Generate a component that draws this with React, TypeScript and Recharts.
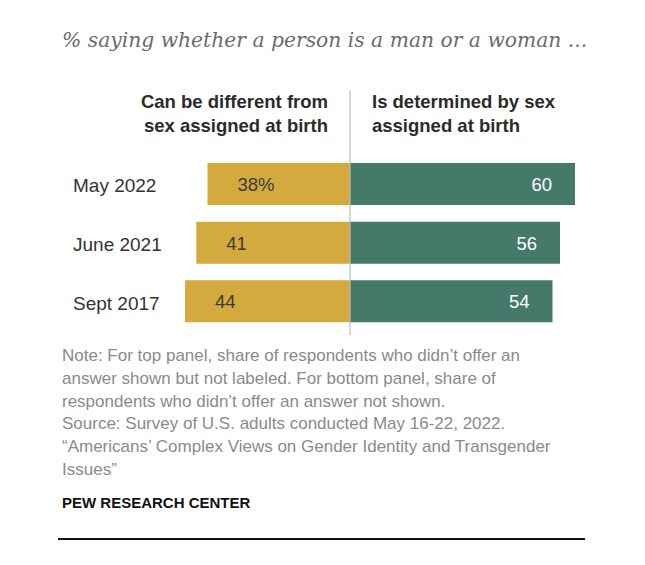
import React from 'react';
import { BarChart, Bar, XAxis, YAxis, ReferenceLine, LabelList } from 'recharts';

// ---- data ----
const categories = ['May 2022', 'June 2021', 'Sept 2017'];
const canBeDifferent = [38, 41, 44];
const determinedBySex = [60, 56, 54];
const xDomain: [number, number] = [-50, 70];

const title = '% saying whether a person is a man or a woman ...';
const leftHeader = ['Can be different from', 'sex assigned at birth'];
const rightHeader = ['Is determined by sex', 'assigned at birth'];
const noteLines = [
  'Note: For top panel, share of respondents who didn\u2019t offer an',
  'answer shown but not labeled. For bottom panel, share of',
  'respondents who didn\u2019t offer an answer not shown.',
  'Source: Survey of U.S. adults conducted May 16-22, 2022.',
  '\u201cAmericans\u2019 Complex Views on Gender Identity and Transgender',
  'Issues\u201d',
];
const sourceLabel = 'PEW RESEARCH CENTER';

const data = categories.map((c, i) => ({
  period: c,
  different: -canBeDifferent[i],
  determined: determinedBySex[i],
}));

const W = 645;
const H = 565;
const SANS = '"Liberation Sans", Arial, sans-serif';
const YELLOW = '#D4AA3E';
const GREEN = '#457A6A';

const LeftLabel = (props: any) => {
  const { x, y, width, height, value, index } = props;
  const left = Math.min(x, x + width);
  const text = `${Math.abs(value)}${index === 0 ? '%' : ''}`;
  return (
    <text x={left + 30} y={y + height / 2} dy={7} textAnchor="start" fill="#3a3a3a" fontSize={18.5} fontFamily={SANS}>
      {text}
    </text>
  );
};

const RightLabel = (props: any) => {
  const { x, y, width, height, value } = props;
  const right = Math.max(x, x + width);
  return (
    <text x={right - 23} y={y + height / 2} dy={7} textAnchor="end" fill="#ffffff" fontSize={18.5} fontFamily={SANS}>
      {value}
    </text>
  );
};

const CategoryTick = (props: any) => {
  const { y, payload } = props;
  return (
    <text x={73} y={y} dy={8} textAnchor="start" fill="#333333" fontSize={19} fontFamily={SANS}>
      {payload.value}
    </text>
  );
};

const CenterLine = (props: any) => {
  const { x1, y1, x2, y2 } = props;
  return <line x1={x1} y1={Math.min(y1, y2) - 65} x2={x2} y2={Math.max(y1, y2) + 4} stroke="#bdbdbd" strokeWidth={1.2} />;
};

export default function App() {
  return (
    <div style={{ position: 'absolute', left: 0, top: 0, width: W, height: H, background: '#fff' }}>
      <BarChart
        width={W}
        height={H}
        data={data}
        layout="vertical"
        stackOffset="sign"
        margin={{ top: 155, right: 32.5, bottom: 234, left: 0 }}
        barSize={42}
      >
        <XAxis type="number" domain={xDomain} hide allowDataOverflow />
        <YAxis
          type="category"
          dataKey="period"
          width={162.5}
          axisLine={false}
          tickLine={false}
          tick={<CategoryTick />}
        />
        <Bar dataKey="different" stackId="a" fill={YELLOW} isAnimationActive={false}>
          <LabelList dataKey="different" content={<LeftLabel />} />
        </Bar>
        <Bar dataKey="determined" stackId="a" fill={GREEN} isAnimationActive={false}>
          <LabelList dataKey="determined" content={<RightLabel />} />
        </Bar>
        <ReferenceLine x={0} shape={<CenterLine />} />
      </BarChart>
      <svg width={W} height={H} style={{ position: 'absolute', left: 0, top: 0, pointerEvents: 'none' }}>
        <text x={62} y={47} fill="#6b6b6b" fontSize={20.3} fontStyle="italic" fontFamily='"DejaVu Serif", serif'>
          {title}
        </text>
        {leftHeader.map((t, i) => (
          <text key={t} x={328} y={108 + i * 24} textAnchor="end" fontWeight="bold" fill="#2b2b2b" fontSize={18.5} fontFamily={SANS}>
            {t}
          </text>
        ))}
        {rightHeader.map((t, i) => (
          <text key={t} x={372} y={108 + i * 24} textAnchor="start" fontWeight="bold" fill="#2b2b2b" fontSize={18.5} fontFamily={SANS}>
            {t}
          </text>
        ))}
        {noteLines.map((t, i) => (
          <text key={i} x={62} y={361 + i * 22.8} fill="#8a8a8a" fontSize={17} fontFamily={SANS}>
            {t}
          </text>
        ))}
        <text x={62} y={508} fontWeight="bold" fill="#111" fontSize={15} fontFamily={SANS}>
          {sourceLabel}
        </text>
        <line x1={58} y1={539} x2={585} y2={539} stroke="#111" strokeWidth={2} />
      </svg>
    </div>
  );
}
